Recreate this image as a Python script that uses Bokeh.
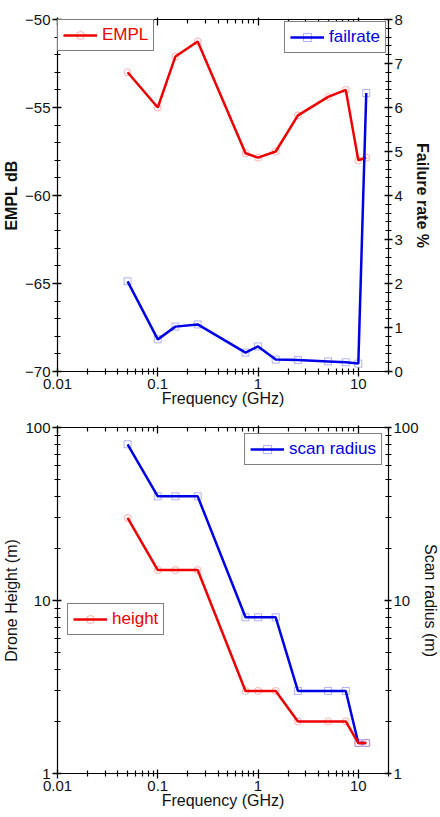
from bokeh.plotting import figure
from bokeh.models import (LinearAxis, LogAxis, Range1d, FixedTicker, SingleIntervalTicker,
                          CustomJSTickFormatter, Legend, LegendItem, LogScale)
from bokeh.layouts import column
from bokeh.embed import file_html
from bokeh.resources import INLINE

# ---------------- data ----------------
freq = [0.05, 0.1, 0.15, 0.25, 0.75, 1, 1.5, 2.5, 5, 7.5, 10, 12]
empl = [-53.0, -55.0, -52.1, -51.25, -57.6, -57.85, -57.5, -55.45, -54.4, -54.0, -58.0, -57.85]
failrate = [2.05, 0.73, 1.02, 1.07, 0.43, 0.57, 0.27, 0.26, 0.23, 0.21, 0.18, 6.33]
height = [30, 15, 15, 15, 3, 3, 3, 2, 2, 2, 1.5, 1.5]
scan_radius = [80, 40, 40, 40, 8, 8, 8, 3, 3, 3, 1.5, 1.5]

x_ticks = [0.01, 0.1, 1, 10]
y_log_ticks = [1, 10, 100]

RED = "#ee0000"
BLUE = "#0000e6"
FONT = "Liberation Sans"

x_minor = [k * d for d in [0.01, 0.1, 1, 10] for k in range(2, 10)]
y_minor = [k * d for d in [1, 10] for k in range(2, 10)]
fmt = "return tick.toString();"


def style_axis(ax, bold=False):
    ax.axis_line_color = "black"
    ax.axis_line_width = 1.2
    ax.major_tick_line_color = "black"
    ax.minor_tick_line_color = "black"
    ax.major_tick_line_width = 1.3
    ax.minor_tick_line_width = 1.2
    ax.major_tick_in = 4
    ax.major_tick_out = 5
    ax.minor_tick_in = 3
    ax.minor_tick_out = 3
    ax.major_label_text_font = FONT
    ax.major_label_text_font_size = "15px"
    ax.major_label_text_color = "#111111"
    ax.major_label_standoff = 2
    ax.axis_label_text_font = FONT
    ax.axis_label_text_font_size = "16px"
    ax.axis_label_text_color = "#111111"
    ax.axis_label_text_font_style = "bold" if bold else "normal"
    ax.axis_label_standoff = 2


def hidden_top(p):
    ax = LogAxis(ticker=FixedTicker(ticks=x_ticks, minor_ticks=x_minor))
    style_axis(ax)
    ax.major_label_text_font_size = "1px"
    ax.major_label_text_alpha = 0
    ax.major_tick_out = 2
    ax.major_tick_in = 6
    ax.minor_tick_out = 0
    ax.minor_tick_in = 4
    ax.major_label_standoff = 0
    p.add_layout(ax, "above")


def style_x(p):
    ax = p.below[0]
    ax.ticker = FixedTicker(ticks=x_ticks, minor_ticks=x_minor)
    ax.formatter = CustomJSTickFormatter(code=fmt)
    style_axis(ax)
    ax.axis_label = "Frequency (GHz)"
    ax.axis_label_standoff = -2


def make_legend(p, label, renderers, color, location, margin=0):
    leg = Legend(items=[LegendItem(label=label, renderers=renderers)], location=location)
    leg.margin = margin
    leg.padding = 5
    leg.spacing = 0
    leg.glyph_width = 34
    leg.glyph_height = 20
    leg.label_height = 20
    leg.label_standoff = 5
    leg.label_text_font = FONT
    leg.label_text_font_size = "17px"
    leg.label_text_color = color
    leg.border_line_color = "black"
    leg.border_line_width = 1
    leg.background_fill_color = "white"
    leg.background_fill_alpha = 1
    p.add_layout(leg)


# ---------------- top figure ----------------
p1 = figure(frame_width=331, frame_height=352, x_axis_type="log",
            x_range=Range1d(0.01, 20), y_range=Range1d(-70, -50),
            output_backend="svg", toolbar_location=None,
            min_border_left=53, min_border_right=48, min_border_top=19, min_border_bottom=5)
p1.extra_y_ranges = {"fail": Range1d(0, 8)}
p1.grid.visible = False
p1.outline_line_color = "black"
p1.background_fill_color = "white"

style_x(p1)
yl = p1.left[0]
yl.ticker = SingleIntervalTicker(interval=5, num_minor_ticks=5)
style_axis(yl, bold=True)
yl.axis_label = "EMPL dB"

yr = LinearAxis(y_range_name="fail", ticker=SingleIntervalTicker(interval=1, num_minor_ticks=5),
                axis_label="Failure rate %")
style_axis(yr, bold=True)
yr.major_tick_out = 4
yr.axis_label_standoff = 8
p1.add_layout(yr, "right")
hidden_top(p1)

l1 = p1.line(freq, empl, line_color=RED, line_width=2.5)
s1 = p1.scatter(freq, empl, marker="circle", size=7, fill_color=None,
                line_color=RED, line_alpha=0.3, line_width=1)
l2 = p1.line(freq, failrate, line_color=BLUE, line_width=2.5, y_range_name="fail")
s2 = p1.scatter(freq, failrate, marker="square", size=7, fill_color=None,
                line_color=BLUE, line_alpha=0.3, line_width=1, y_range_name="fail")

make_legend(p1, "EMPL", [l1, s1], RED, "top_left", 0)
make_legend(p1, "failrate", [l2, s2], BLUE, "top_right", 2)

# ---------------- bottom figure ----------------
p2 = figure(frame_width=331, frame_height=346, x_axis_type="log", y_axis_type="log",
            x_range=Range1d(0.01, 20), y_range=Range1d(1, 100),
            output_backend="svg", toolbar_location=None,
            min_border_left=53, min_border_right=48, min_border_top=18, min_border_bottom=5)
p2.extra_y_ranges = {"r": Range1d(1, 100)}
p2.extra_y_scales = {"r": LogScale()}
p2.grid.visible = False
p2.outline_line_color = "black"
p2.background_fill_color = "white"

style_x(p2)
yl2 = p2.left[0]
yl2.ticker = FixedTicker(ticks=y_log_ticks, minor_ticks=y_minor)
yl2.formatter = CustomJSTickFormatter(code=fmt)
style_axis(yl2)
yl2.axis_label = "Drone Height (m)"

yr2 = LogAxis(y_range_name="r", ticker=FixedTicker(ticks=y_log_ticks, minor_ticks=y_minor),
              formatter=CustomJSTickFormatter(code=fmt), axis_label="Scan radius (m)")
style_axis(yr2)
yr2.major_tick_out = 3
yr2.axis_label_standoff = 0
p2.add_layout(yr2, "right")
hidden_top(p2)

l3 = p2.line(freq, scan_radius, line_color=BLUE, line_width=2.5, y_range_name="r")
s3 = p2.scatter(freq, scan_radius, marker="square", size=7, fill_color=None,
                line_color=BLUE, line_alpha=0.3, line_width=1, y_range_name="r")
l4 = p2.line(freq, height, line_color=RED, line_width=2.5)
s4 = p2.scatter(freq, height, marker="circle", size=7, fill_color=None,
                line_color=RED, line_alpha=0.3, line_width=1)

make_legend(p2, "scan radius", [l3, s3], BLUE, "top_right", 6)
make_legend(p2, "height", [l4, s4], RED, (10, 138))

layout = column(p1, p2, spacing=0)
open("out.html", "w").write(file_html(layout, INLINE))
